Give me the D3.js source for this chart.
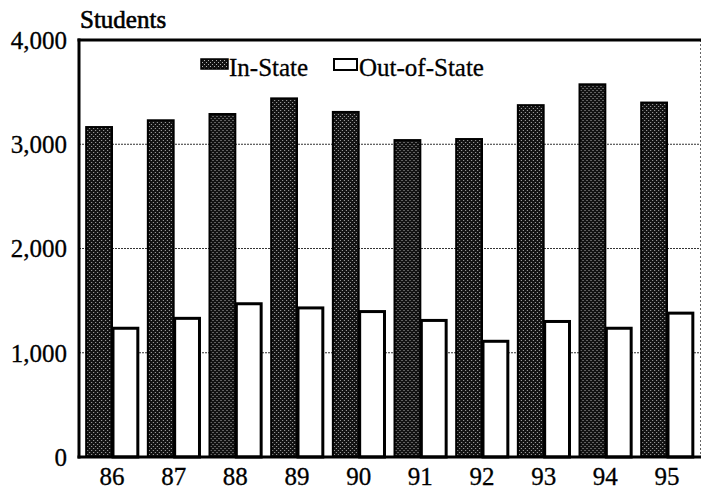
<!DOCTYPE html>
<html><head><meta charset="utf-8">
<script src="https://cdn.jsdelivr.net/npm/d3@7"></script>
<style>
html,body{margin:0;padding:0;background:#fff;}
</style></head>
<body>
<svg id="chart" width="702" height="490"></svg>
<script>
const years = ["86","87","88","89","90","91","92","93","94","95"];
const inState = [3165, 3230, 3290, 3440, 3310, 3040, 3050, 3375, 3575, 3400];
const outState = [1235, 1330, 1470, 1430, 1395, 1310, 1110, 1300, 1235, 1380];
const seriesNames = ["In-State", "Out-of-State"];
const yTicks = [0, 1000, 2000, 3000, 4000];

(function(){
const FF = '"Liberation Serif", "Times New Roman", serif';

const svg = d3.select("#chart");
const pL = 79, pR = 700, pT = 40, pB = 457;
const FS = 25;

const defs = svg.append("defs");
const pat = defs.append("pattern").attr("id","dots").attr("patternUnits","userSpaceOnUse")
  .attr("width",4).attr("height",4);
pat.append("rect").attr("width",4).attr("height",4).attr("fill","#121212");
pat.append("rect").attr("x",0).attr("y",0).attr("width",1).attr("height",1).attr("fill","#b0b0b0");
pat.append("rect").attr("x",2).attr("y",2).attr("width",1).attr("height",1).attr("fill","#b0b0b0");

const x = d3.scaleBand().domain(years).range([pL, pR]).paddingInner(0.13).paddingOuter(0.1);
const xs = d3.scaleBand().domain(seriesNames).range([0, x.bandwidth()]).padding(0);
const y = d3.scaleLinear().domain([0, 4000]).range([pB, pT]);

svg.append("g").selectAll("line").data(yTicks.filter(t => t > 0 && t < 4000)).join("line")
  .attr("x1", pL).attr("x2", pR)
  .attr("y1", d => y(d)).attr("y2", d => y(d))
  .attr("stroke", "#333").attr("stroke-width", 1).attr("stroke-dasharray", "2,1");

svg.append("line").attr("x1", pR+0.5).attr("x2", pR+0.5).attr("y1", pT).attr("y2", pB)
  .attr("stroke", "#666").attr("stroke-width", 1).attr("stroke-dasharray", "2,2");

const groups = svg.append("g").selectAll("g").data(years).join("g")
  .attr("transform", d => `translate(${x(d)},0)`);

groups.append("rect")
  .attr("x", xs("In-State") + 1)
  .attr("y", (d,i) => y(inState[i]))
  .attr("width", xs.bandwidth() - 1)
  .attr("height", (d,i) => pB - y(inState[i]))
  .attr("fill", "url(#dots)")
  .attr("stroke", "#000").attr("stroke-width", 2);

groups.append("rect")
  .attr("x", xs("Out-of-State") + 1)
  .attr("y", (d,i) => y(outState[i]))
  .attr("width", xs.bandwidth() - 2)
  .attr("height", (d,i) => pB - y(outState[i]))
  .attr("fill", "#fff")
  .attr("stroke", "#000").attr("stroke-width", 3);

svg.append("line").attr("x1", pL).attr("x2", pL).attr("y1", pT - 1.5).attr("y2", pB + 1.5)
  .attr("stroke", "#000").attr("stroke-width", 3);
svg.append("line").attr("x1", pL - 1.5).attr("x2", pR + 1).attr("y1", pB).attr("y2", pB)
  .attr("stroke", "#000").attr("stroke-width", 3);
svg.append("line").attr("x1", pL - 1.5).attr("x2", pR + 1).attr("y1", pT).attr("y2", pT)
  .attr("stroke", "#000").attr("stroke-width", 3);

const fmt = d3.format(",");
svg.append("g").selectAll("text").data(yTicks).join("text")
  .attr("x", 67).attr("y", d => y(d)).attr("dy", "0.35em")
  .attr("text-anchor", "end").attr("font-size", FS).attr("font-family", FF)
  .attr("stroke", "#000").attr("stroke-width", 0.3)
  .text(d => fmt(d));

svg.append("g").selectAll("text").data(years).join("text")
  .attr("x", d => x(d) + x.bandwidth() / 2).attr("y", 485)
  .attr("text-anchor", "middle").attr("font-size", FS).attr("font-family", FF)
  .attr("stroke", "#000").attr("stroke-width", 0.3)
  .text(d => d);

svg.append("text").attr("x", 80).attr("y", 28).attr("font-size", FS).attr("font-family", FF)
  .attr("stroke", "#000").attr("stroke-width", 0.6)
  .text("Students");

const lg = svg.append("g").attr("font-family", FF).attr("font-size", FS);
lg.append("rect").attr("x", 201).attr("y", 59).attr("width", 27).attr("height", 10)
  .attr("fill", "url(#dots)").attr("stroke", "#000").attr("stroke-width", 1.5);
lg.append("text").attr("x", 229).attr("y", 76).attr("stroke", "#000").attr("stroke-width", 0.3)
  .text(seriesNames[0]);
lg.append("rect").attr("x", 334).attr("y", 59).attr("width", 23).attr("height", 11)
  .attr("fill", "#fff").attr("stroke", "#000").attr("stroke-width", 2);
lg.append("text").attr("x", 359).attr("y", 76).attr("stroke", "#000").attr("stroke-width", 0.3)
  .text(seriesNames[1]);
})();
</script>
</body></html>
